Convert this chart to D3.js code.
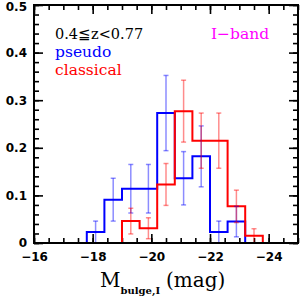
<!DOCTYPE html>
<html>
<head>
<meta charset="utf-8">
<script src="https://cdn.jsdelivr.net/npm/d3@7"></script>
<style>
    body { margin: 0; background: #fff; }
    svg { display: block; }
</style>
</head>
<body>
<div id="chart"></div>
<script>
// bin edges (mag), one more than the number of bins
var binEdges = [-17.2, -17.8, -18.4, -19.0, -19.6, -20.2, -20.8, -21.4, -22.0, -22.6, -23.2, -23.8, -24.4];

// fraction per bin, null = bin not drawn
var pseudoFrac = [0, 0.023, 0.091, 0.114, 0.114, 0.273, 0.136, 0.182, 0.023, 0.045, 0, null];
var pseudoErr = [0, 0.023, 0.045, 0.051, 0.051, 0.079, 0.056, 0.064, 0.023, 0.032, 0, null];

var classicalFrac = [null, null, 0, 0.046, 0.031, 0.123, 0.277, 0.215, 0.215, 0.077, 0.015, 0];
var classicalErr = [null, null, 0, 0.027, 0.022, 0.044, 0.065, 0.058, 0.058, 0.034, 0.015, 0];

var xTicks = [-16, -18, -20, -22, -24];
var yTicks = [0, 0.1, 0.2, 0.3, 0.4, 0.5];

var width = 300,
    height = 304;

var x = d3.scaleLinear().domain([-16, -25]).range([34, 298]);
var y = d3.scaleLinear().domain([0, 0.5]).range([243, 5]);

var svg = d3.select('#chart').append('svg')
    .attr('width', width)
    .attr('height', height);

var tickFont = 'DejaVu Sans, sans-serif';
var textFont = 'DejaVu Serif, serif';

// minor ticks
var xMinor = d3.range(-16, -25.01, -0.5);
var yMinor = d3.range(0, 0.501, 0.02);

function styleAxis(g) {
    g.select('.domain').remove();
    g.selectAll('.tick line').attr('stroke', '#000').attr('stroke-width', 1.6);
    g.selectAll('.tick text')
        .attr('fill', '#000')
        .style('font-family', tickFont)
        .style('font-weight', 'bold')
        .style('font-size', '12px');
}

svg.append('g')
    .attr('transform', 'translate(0,' + y(0) + ')')
    .call(d3.axisBottom(x).tickValues(xMinor).tickSize(-5).tickFormat(''))
    .call(styleAxis);
svg.append('g')
    .attr('transform', 'translate(0,' + y(0) + ')')
    .call(d3.axisBottom(x).tickValues(xTicks).tickSize(-9).tickPadding(9)
        .tickFormat(function(d) { return '\u2212' + Math.abs(d); }))
    .call(styleAxis);
svg.append('g')
    .attr('transform', 'translate(0,' + y(0.5) + ')')
    .call(d3.axisTop(x).tickValues(xMinor).tickSize(-5).tickFormat(''))
    .call(styleAxis);
svg.append('g')
    .attr('transform', 'translate(0,' + y(0.5) + ')')
    .call(d3.axisTop(x).tickValues(xTicks).tickSize(-9).tickFormat(''))
    .call(styleAxis);

svg.append('g')
    .attr('transform', 'translate(' + x(-16) + ',0)')
    .call(d3.axisLeft(y).tickValues(yMinor).tickSize(-5).tickFormat(''))
    .call(styleAxis);
var yAxis = svg.append('g')
    .attr('transform', 'translate(' + x(-16) + ',0)')
    .call(d3.axisLeft(y).tickValues(yTicks).tickSize(-9).tickPadding(7)
        .tickFormat(function(d) { return d === 0 ? '0' : d3.format('.1f')(d); }))
    .call(styleAxis);
// keep the top label inside the picture
yAxis.selectAll('.tick text')
    .filter(function(d) { return d === 0.5; })
    .attr('y', 1.5);

svg.append('g')
    .attr('transform', 'translate(' + x(-25) + ',0)')
    .call(d3.axisRight(y).tickValues(yMinor).tickSize(-5).tickFormat(''))
    .call(styleAxis);
svg.append('g')
    .attr('transform', 'translate(' + x(-25) + ',0)')
    .call(d3.axisRight(y).tickValues(yTicks).tickSize(-9).tickFormat(''))
    .call(styleAxis);

// step histograms
function stepPoints(frac) {
    var pts = [];
    frac.forEach(function(v, i) {
        if (v === null) return;
        pts.push([binEdges[i], v]);
        pts.push([binEdges[i + 1], v]);
    });
    return pts;
}

var line = d3.line()
    .x(function(d) { return x(d[0]); })
    .y(function(d) { return y(d[1]); });

function drawHist(frac, color) {
    svg.append('path')
        .datum(stepPoints(frac))
        .attr('d', line)
        .attr('fill', 'none')
        .attr('stroke', color)
        .attr('stroke-width', 2);
}

function drawErrors(frac, err, color) {
    var data = [];
    frac.forEach(function(v, i) {
        if (v === null || v === 0) return;
        data.push({
            c: (binEdges[i] + binEdges[i + 1]) / 2,
            lo: Math.max(0, v - err[i]),
            hi: v + err[i]
        });
    });
    var g = svg.append('g')
        .attr('stroke', color)
        .attr('stroke-opacity', 0.45)
        .attr('stroke-width', 1.5)
        .attr('fill', 'none');
    var bars = g.selectAll('g').data(data).enter().append('g');
    bars.append('line')
        .attr('x1', function(d) { return x(d.c); })
        .attr('x2', function(d) { return x(d.c); })
        .attr('y1', function(d) { return y(d.lo); })
        .attr('y2', function(d) { return y(d.hi); });
    bars.append('line')
        .attr('x1', function(d) { return x(d.c) - 2.5; })
        .attr('x2', function(d) { return x(d.c) + 2.5; })
        .attr('y1', function(d) { return y(d.hi); })
        .attr('y2', function(d) { return y(d.hi); });
    bars.append('line')
        .attr('x1', function(d) { return x(d.c) - 2.5; })
        .attr('x2', function(d) { return x(d.c) + 2.5; })
        .attr('y1', function(d) { return y(d.lo); })
        .attr('y2', function(d) { return y(d.lo); });
}

drawHist(pseudoFrac, '#0000ff');
drawHist(classicalFrac, '#ff0000');
drawErrors(pseudoFrac, pseudoErr, '#0000ff');
drawErrors(classicalFrac, classicalErr, '#ff0000');

// frame
svg.append('rect')
    .attr('x', x(-16))
    .attr('y', y(0.5))
    .attr('width', x(-25) - x(-16))
    .attr('height', y(0) - y(0.5))
    .attr('fill', 'none')
    .attr('stroke', '#000')
    .attr('stroke-width', 2);

// labels
function label(txt, px, py, color, size) {
    return svg.append('text')
        .attr('x', px)
        .attr('y', py)
        .attr('fill', color)
        .style('font-family', textFont)
        .style('font-size', size + 'px')
        .text(txt);
}

label('0.4\u2266z<0.77', 55, 38.5, '#000', 14.5);
label('pseudo', 55, 57, '#0000ff', 15.5);
label('classical', 55, 75, '#ff0000', 15.5);
label('I\u2212band', 211, 38.5, '#ff00ff', 15.5);

var xl = svg.append('text')
    .attr('x', 100)
    .attr('y', 287)
    .attr('fill', '#000')
    .style('font-family', textFont)
    .style('font-size', '20px');
xl.append('tspan').text('M');
xl.append('tspan')
    .attr('dy', 7)
    .style('font-size', '10px')
    .style('font-weight', 'bold')
    .text('bulge,I');
xl.append('tspan')
    .attr('dy', -7)
    .attr('dx', 6)
    .text('(mag)');
</script>
</body>
</html>
